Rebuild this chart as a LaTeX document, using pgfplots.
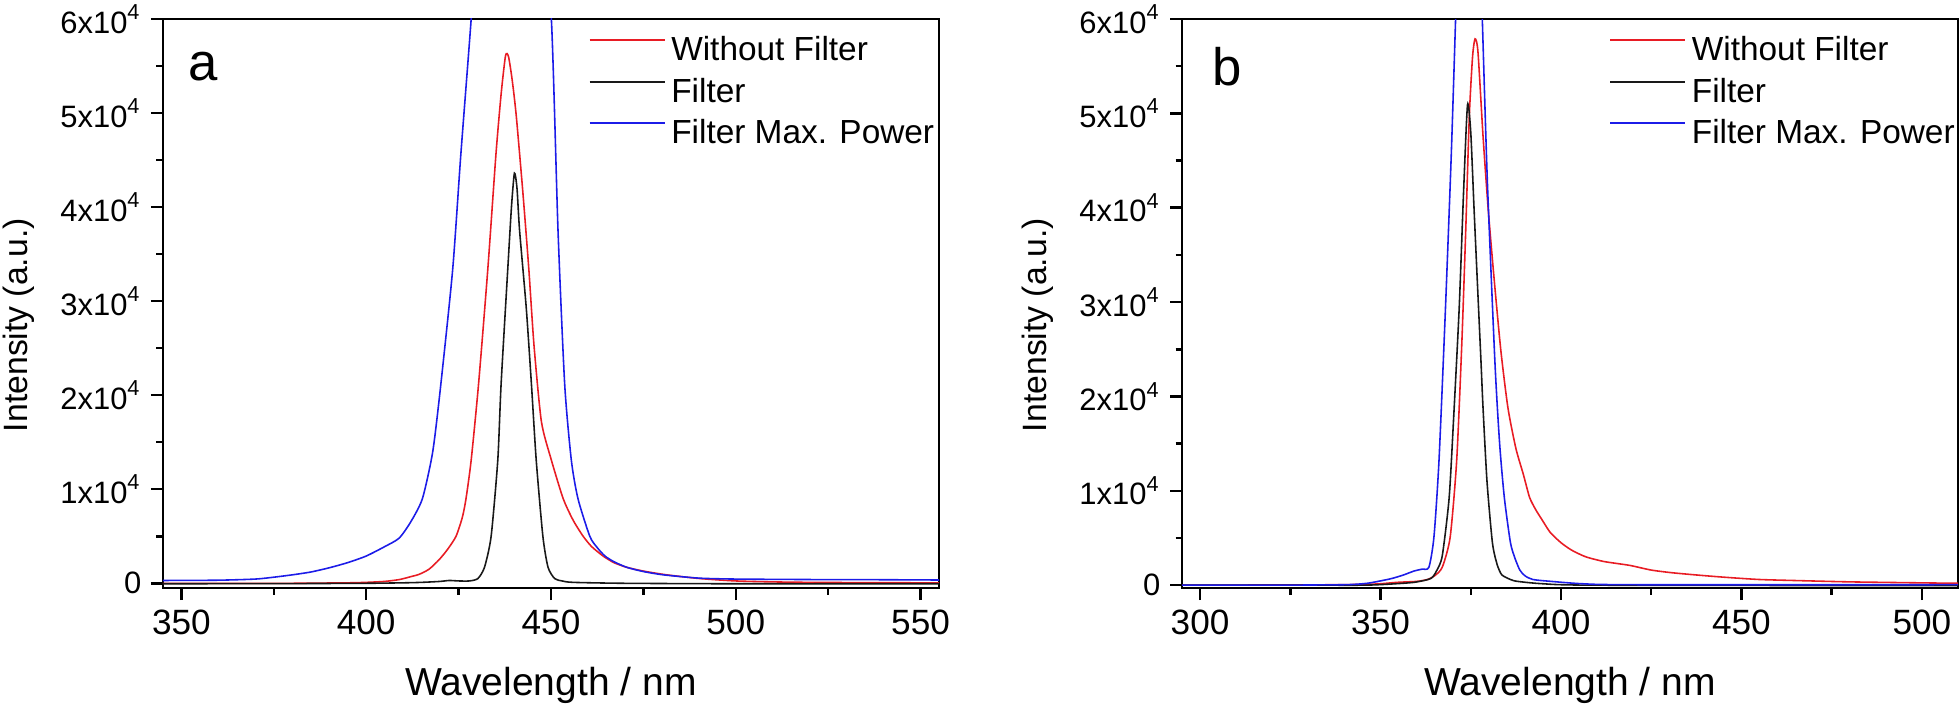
\documentclass[border=0pt]{standalone}
\usepackage{fontspec}
\setmainfont{Liberation Sans}
\usepackage{pgfplots}
\pgfplotsset{compat=1.18}
\definecolor{cred}{RGB}{232,28,36}
\definecolor{cblue}{RGB}{28,28,232}
\definecolor{cblack}{RGB}{25,25,25}

\pgfplotsset{
  spec/.style={
    scale only axis, width=77.6mm, height=56.9mm,
    anchor=south west,
    ymax=60000,
    ytick={0,10000,20000,30000,40000,50000,60000},
    yticklabels={0,1x10\textsuperscript{4},2x10\textsuperscript{4},3x10\textsuperscript{4},4x10\textsuperscript{4},5x10\textsuperscript{4},6x10\textsuperscript{4}},
    scaled ticks=false,
    minor x tick num=1, minor y tick num=1,
    tick align=outside, tick pos=left,
    major tick length=1.2mm, minor tick length=0.65mm,
    axis line style={line width=0.8pt},
    every tick/.style={black, line width=0.7pt},
    /pgf/number format/assume math mode=true,
    xticklabel style={font=\fontsize{10}{12}\selectfont, inner sep=0pt, yshift=-0.9mm},
    yticklabel style={font=\fontsize{8.8}{10}\selectfont, inner sep=0pt, xshift=-0.9mm},
    xlabel={Wavelength / nm},
    ylabel={Intensity (a.u.)},
    xlabel style={font=\fontsize{11.1}{13}\selectfont, at={(axis description cs:0.5,-0.1705)}, anchor=center},
    ylabel style={font=\fontsize{9.6}{11}\selectfont, at={(axis description cs:-0.1856,0.462)}, anchor=center},
    legend cell align=left,
    legend image code/.code={\draw[#1] (0mm,1.15mm) -- (7.5mm,1.15mm);},
    legend style={draw=none, fill=none, anchor=north west, inner sep=0pt,
      font=\fontsize{9.5}{11}\selectfont, row sep=1.15mm,
      nodes={inner sep=0pt, text height=2.4mm, text depth=0.6mm},
      /tikz/every odd column/.append style={column sep=0.6mm}},
  },
  sr/.style={cred, line width=0.45pt, smooth, tension=0.4},
  sk/.style={cblack, line width=0.45pt, smooth, tension=0.4},
  sb/.style={cblue, line width=0.45pt, smooth, tension=0.4},
}

\begin{document}
\begin{tikzpicture}
\useasboundingbox (0,0) rectangle (196mm,71mm);

% panel a
\begin{axis}[spec, at={(16.3mm,12.2mm)},
  xmin=345, xmax=555, ymin=-500,
  xtick={350,400,450,500,550},
  legend style={at={(axis description cs:0.5477,0.970)}}]
\addplot[sr] coordinates {
(345,0) (360,0) (380,0) (395,50) (400,100) (405,200) (409,400) (412,700)
(414.3,950) (417,1500) (419.7,2500) (422,3600) (424.3,5000) (426,7000)
(427,9000) (428.4,13100) (430.4,21200) (432.9,33400) (435.1,45600)
(436.5,52000) (437.7,56100) (438.5,56000) (439.5,53500) (440.6,49700)
(442.4,41500) (444,33400) (445.4,25300) (447.4,17200) (450.1,13100)
(453.3,9000) (456,6700) (458.7,5000) (461,3900) (464.1,2900) (467,2200)
(470.5,1700) (475,1300) (481.3,900) (490.4,500) (500,250) (510,150)
(520,100) (540,60) (555,50)};
\addlegendentry{Without Filter}
\addplot[sk] coordinates {
(345,-50) (380,-30) (400,0) (410,50) (415,100) (420,200) (422.5,300)
(425,250) (427.9,250) (430.2,500) (432,1700) (433.8,5000) (435.6,13100)
(436.5,21200) (438.3,33400) (439.3,40000) (440.1,43600) (440.8,42000)
(441.5,37500) (443.3,29300) (444.7,21200) (446,13100) (447.8,5000)
(449.2,1700) (451,500) (453,250) (456,100) (470,0) (500,-50) (555,-50)};
\addlegendentry{Filter}
\addplot[sb] coordinates {
(345,300) (360,330) (370,450) (375,650) (380,900) (385,1200) (390,1650)
(395,2200) (400,2900) (405,3900) (408.9,4800) (412,6500) (415.2,9000)
(418,14000) (420.2,21200) (423.4,33400) (425.6,45600) (428.4,60000)
(431,75000) (439,90000) (447,75000) (450.1,60000) (451.9,37500)
(453.7,21200) (455.5,13100) (457.3,9000) (460.5,5000) (462.5,3800)
(464.6,2900) (467,2300) (470.5,1700) (475,1250) (480.4,900) (490,550)
(500,450) (520,400) (540,380) (555,350)};
\addlegendentry{Filter Max. Power}
\node[font=\fontsize{15}{17}\selectfont] at (axis description cs:0.0515,0.9156) {a};
\end{axis}

% panel b
\begin{axis}[spec, at={(118.2mm,12.2mm)},
  xmin=295, xmax=510, ymin=-300,
  xtick={300,350,400,450,500},
  legend style={at={(axis description cs:0.5497,0.970)}}]
\addplot[sr] coordinates {
(295,0) (330,30) (345,80) (350,150) (354.6,300) (360,400) (363,600)
(365,1000) (367.1,1900) (369.3,5100) (371.1,13200) (372.5,25400)
(373.6,37500) (374.6,49700) (375.5,56000) (376.2,57900) (377,56500)
(378.4,47600) (379.8,40000) (381.3,33200) (383.3,25000) (385.3,18800)
(387.5,14500) (389.6,11700) (391.3,9300) (393,8000) (394.8,6900)
(397,5600) (400,4500) (403,3700) (406.9,3000) (412,2500) (419,2100)
(425,1600) (431.2,1300) (440,1000) (446.8,800) (455,600) (464.1,500)
(480,350) (498.8,250) (510,200)};
\addlegendentry{Without Filter}
\addplot[sk] coordinates {
(295,0) (330,0) (345.4,0) (352,100) (359.3,300) (363.9,700) (365.5,1500)
(367.1,3100) (369,9200) (370.2,17300) (371.8,29400) (373,41600)
(374.1,50900) (375,48000) (375.9,40000) (376.7,33200) (377.8,24000)
(378.4,18800) (379.5,11000) (381,4500) (382.3,2200) (383.6,1100)
(386,600) (388,400) (395,150) (410,0) (510,-50)};
\addlegendentry{Filter}
\addplot[sb] coordinates {
(295,0) (320,0) (340,50) (346.3,200) (351.9,600) (354,800) (356.5,1100)
(359.3,1500) (361.5,1700) (363.4,1900) (364.8,5100) (366.2,13200)
(368,29400) (369.6,45600) (370.8,60000) (372,75000) (374.5,90000)
(377,75000) (378.2,60000) (379.6,42800) (381.7,23600) (383,15000)
(384.3,9300) (386,4500) (387.3,2800) (388.6,1600) (390,1000)
(392.2,600) (397.3,400) (406,150) (420,50) (510,50)};
\addlegendentry{Filter Max. Power}
\node[font=\fontsize{15}{17}\selectfont] at (axis description cs:0.058,0.9156) {b};
\end{axis}
\end{tikzpicture}
\end{document}
